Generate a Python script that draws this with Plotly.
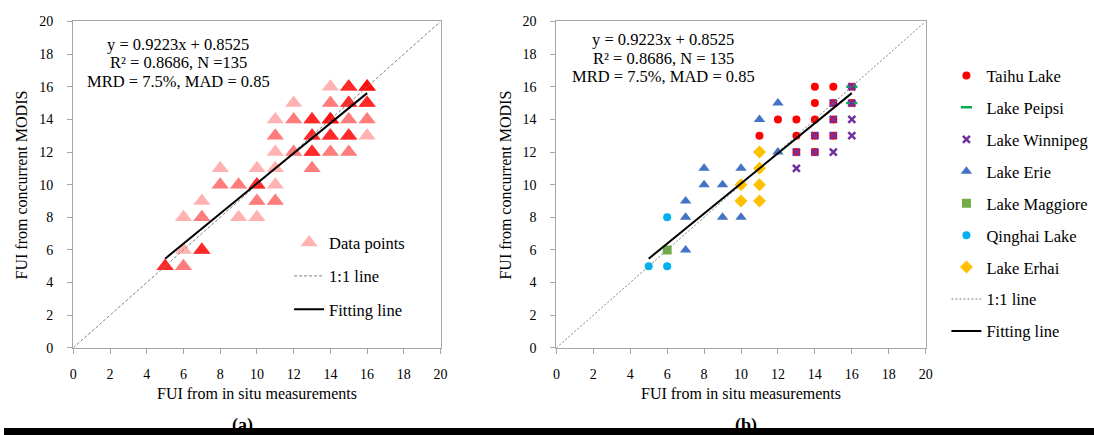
import plotly.graph_objects as go

# ---------------- data ----------------
tick_vals = list(range(0, 21, 2))
fit_slope, fit_intercept = 0.9223, 0.8525
fit_x_range = [5, 16]
one_to_one = [0, 20]

# panel (a): all observations, (x, y, number of overlapping observations)
all_x = [14, 15, 16,
         12, 14, 15, 16,
         11, 12, 13, 14, 15, 16,
         11, 13, 14, 15, 16,
         11, 12, 13, 14, 15,
         8, 10, 11, 13,
         8, 9, 10, 11,
         7, 10, 11,
         6, 7, 9, 10,
         6, 7,
         5, 6]
all_y = [16, 16, 16,
         15, 15, 15, 15,
         14, 14, 14, 14, 14, 14,
         13, 13, 13, 13, 13,
         12, 12, 12, 12, 12,
         11, 11, 11, 11,
         10, 10, 10, 10,
         9, 9, 9,
         8, 8, 8, 8,
         6, 6,
         5, 5]
all_n = [1, 5, 8,
         1, 2, 5, 5,
         1, 2, 5, 8, 2, 2,
         2, 5, 5, 5, 1,
         1, 2, 5, 2, 2,
         1, 1, 1, 2,
         2, 2, 5, 1,
         1, 2, 2,
         1, 2, 1, 1,
         1, 5,
         5, 2]

# panel (b): by lake
taihu_x = [14, 15, 16, 14, 15, 16, 12, 13, 14, 15, 11, 13, 14, 15, 13, 14]
taihu_y = [16, 16, 16, 15, 15, 15, 14, 14, 14, 14, 13, 13, 13, 13, 12, 12]
peipsi_x = [16, 16]
peipsi_y = [16, 15]
winnipeg_x = [16, 15, 16, 15, 16, 14, 15, 16, 13, 14, 15, 13]
winnipeg_y = [16, 15, 15, 14, 14, 13, 13, 13, 12, 12, 12, 11]
erie_x = [12, 11, 12, 8, 10, 8, 9, 7, 7, 9, 10, 7]
erie_y = [15, 14, 12, 11, 11, 10, 10, 9, 8, 8, 8, 6]
maggiore_x = [6]
maggiore_y = [6]
qinghai_x = [6, 5, 6]
qinghai_y = [8, 5, 5]
erhai_x = [11, 11, 10, 11, 10, 11]
erhai_y = [12, 11, 10, 10, 9, 9]

lakes = [
    ("Taihu Lake", taihu_x, taihu_y),
    ("Lake Peipsi", peipsi_x, peipsi_y),
    ("Lake Winnipeg", winnipeg_x, winnipeg_y),
    ("Lake Erie", erie_x, erie_y),
    ("Lake Maggiore", maggiore_x, maggiore_y),
    ("Qinghai Lake", qinghai_x, qinghai_y),
    ("Lake Erhai", erhai_x, erhai_y),
]

x_title = "FUI from in situ measurements"
y_title = "FUI from concurrent MODIS"

# ---------------- styles ----------------
FONT = "Liberation Serif, Times New Roman, serif"
AXIS_COLOR = "#a6a6a6"
lake_styles = {
    "Taihu Lake": dict(symbol="circle", color="#ff0000", size=8),
    "Lake Peipsi": dict(symbol="line-ew", color="#00b050", size=8),
    "Lake Winnipeg": dict(symbol="x-thin", color="#7030a0", size=7),
    "Lake Erie": dict(symbol="triangle-up", color="#4472c4", size=10),
    "Lake Maggiore": dict(symbol="square", color="#70ad47", size=9),
    "Qinghai Lake": dict(symbol="circle", color="#00b0f0", size=8),
    "Lake Erhai": dict(symbol="diamond", color="#ffc000", size=10),
}

fig = go.Figure()

# expand overlapping observations so transparency compounds
ex_x, ex_y = [], []
for x, y, n in zip(all_x, all_y, all_n):
    ex_x += [x] * n
    ex_y += [y] * n

fit_y_range = [fit_slope * v + fit_intercept for v in fit_x_range]

# ---- panel (a)
fig.add_trace(go.Scatter(
    x=ex_x, y=ex_y, mode="markers", name="Data points",
    marker=dict(symbol="triangle-up", size=15, color="#ff0000", opacity=0.3,
                line=dict(width=0)),
    xaxis="x", yaxis="y", legend="legend", legendgroup="a1"))
fig.add_trace(go.Scatter(
    x=one_to_one, y=one_to_one, mode="lines", name="1:1 line",
    line=dict(color="#7f7f7f", width=1, dash="3px,2px"),
    xaxis="x", yaxis="y", legend="legend", legendgroup="a2"))
fig.add_trace(go.Scatter(
    x=fit_x_range, y=fit_y_range, mode="lines", name="Fitting line",
    line=dict(color="#000000", width=2),
    xaxis="x", yaxis="y", legend="legend", legendgroup="a3"))

# ---- panel (b)
for i, (name, xs, ys) in enumerate(lakes):
    st = lake_styles[name]
    if st["symbol"] in ("line-ew", "x-thin"):
        mk = dict(symbol=st["symbol"], size=st["size"],
                  line=dict(color=st["color"], width=2.5))
    else:
        mk = dict(symbol=st["symbol"], size=st["size"], color=st["color"],
                  line=dict(width=0))
    fig.add_trace(go.Scatter(
        x=xs, y=ys, mode="markers", name=name, marker=mk,
        xaxis="x2", yaxis="y2", legend="legend2", legendgroup=f"b{i}"))
fig.add_trace(go.Scatter(
    x=one_to_one, y=one_to_one, mode="lines", name="1:1 line",
    line=dict(color="#7f7f7f", width=1, dash="2px,2px"),
    xaxis="x2", yaxis="y2", legend="legend2", legendgroup="b8"))
fig.add_trace(go.Scatter(
    x=fit_x_range, y=fit_y_range, mode="lines", name="Fitting line",
    line=dict(color="#000000", width=2),
    xaxis="x2", yaxis="y2", legend="legend2", legendgroup="b9"))

W, H = 1094, 435
def px(xp):
    return xp / W
def py(yp):
    return (H - yp) / H

axis_common = dict(
    range=[0, 20], tickvals=tick_vals, ticks="outside", ticklen=5,
    tickcolor=AXIS_COLOR, showline=True, linecolor=AXIS_COLOR, linewidth=1.3,
    mirror=True, showgrid=False, zeroline=False,
    tickfont=dict(family=FONT, size=14, color="black"),
)

fig.update_layout(
    width=W, height=H,
    margin=dict(l=0, r=0, t=0, b=0),
    paper_bgcolor="white", plot_bgcolor="white",
    font=dict(family=FONT, size=15, color="black"),
    xaxis=dict(domain=[px(70), px(441)], anchor="y", ticklabelstandoff=8,
               **axis_common),
    yaxis=dict(domain=[py(353), py(15)], anchor="x", ticklabelstandoff=11,
               **axis_common),
    xaxis2=dict(domain=[px(558), px(931)], anchor="y2", ticklabelstandoff=8,
                **axis_common),
    yaxis2=dict(domain=[py(353), py(15)], anchor="x2", ticklabelstandoff=11,
                **axis_common),
    legend=dict(x=px(288), y=py(226), xanchor="left", yanchor="top",
                bgcolor="rgba(0,0,0,0)", font=dict(family=FONT, size=16.5),
                traceorder="grouped", tracegroupgap=9),
    legend2=dict(x=px(952), y=py(53), xanchor="left", yanchor="top",
                 bgcolor="rgba(0,0,0,0)", font=dict(family=FONT, size=16.5),
                 traceorder="grouped", tracegroupgap=7.5),
)

stats_a = ["y = 0.9223x + 0.8525", "R\u00b2 = 0.8686, N =135",
           "MRD = 7.5%, MAD = 0.85"]
stats_b = ["y = 0.9223x + 0.8525", "R\u00b2 = 0.8686, N = 135",
           "MRD = 7.5%, MAD = 0.85"]
ann = []
for txt, yp in zip(stats_a, [39, 58, 77.5]):
    ann.append(dict(text=txt, x=px(176), y=py(yp), xref="paper", yref="paper",
                    xanchor="center", yanchor="middle", showarrow=False,
                    font=dict(family=FONT, size=16.5, color="black")))
for txt, yp in zip(stats_b, [34, 53, 72]):
    ann.append(dict(text=txt, x=px(666), y=py(yp), xref="paper", yref="paper",
                    xanchor="center", yanchor="middle", showarrow=False,
                    font=dict(family=FONT, size=16.5, color="black")))
# axis titles
for xc in [255.5, 744.5]:
    ann.append(dict(text=x_title, x=px(xc), y=py(400), xref="paper",
                    yref="paper", xanchor="center", yanchor="middle",
                    showarrow=False, font=dict(family=FONT, size=16, color="black")))
for xc in [18, 507]:
    ann.append(dict(text=y_title, x=px(xc), y=py(184), xref="paper",
                    yref="paper", xanchor="center", yanchor="middle",
                    textangle=-90, showarrow=False,
                    font=dict(family=FONT, size=16, color="black")))
for lab, xp in [("(a)", 241), ("(b)", 750)]:
    ann.append(dict(text=f"<b>{lab}</b>", x=px(xp), y=py(431), xref="paper",
                    yref="paper", xanchor="center", yanchor="middle",
                    yshift=-2, showarrow=False,
                    font=dict(family=FONT, size=18, color="black")))
# black strip at the bottom edge, drawn last so it covers the labels
ann.append(dict(text=" ", x=0, y=0, xref="paper", yref="paper",
                xanchor="left", yanchor="bottom", showarrow=False, yshift=-8,
                width=W, height=7, bgcolor="black", borderpad=0, borderwidth=0,
                font=dict(size=4)))
fig.update_layout(annotations=ann)

fig.write_html("out.html")
